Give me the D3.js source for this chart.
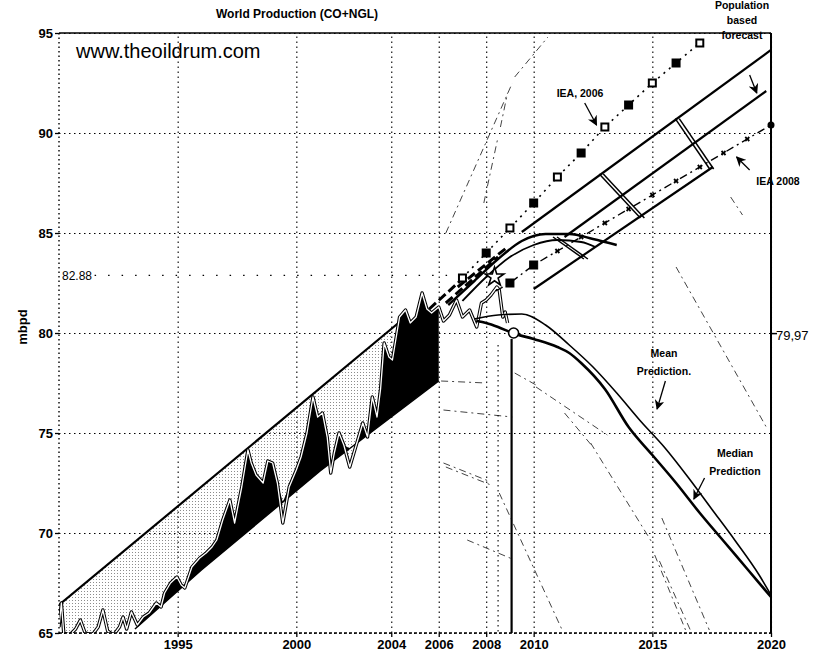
<!DOCTYPE html>
<html>
<head>
<meta charset="utf-8">
<script src="https://cdn.jsdelivr.net/npm/d3@7/dist/d3.min.js"></script>
<style>
  body { margin: 0; background: #fff; }
  text { font-family: "Liberation Sans", Arial, sans-serif; fill: #000; }
</style>
</head>
<body>
<svg id="chart" width="817" height="658"></svg>
<script>
// ---- data (years, mbpd) ----
var yearTicks = [1995, 2000, 2004, 2006, 2008, 2010, 2015, 2020];
var valueTicks = [65, 70, 75, 80, 85, 90, 95];

// monthly-ish world production
var production = [
	[1990.0, 65.3], [1990.1, 66.5], [1990.2, 65.0], [1990.45, 64.9], [1990.7, 65.2], [1990.9, 65.65],
	[1991.1, 65.0], [1991.4, 64.9], [1991.65, 65.3], [1991.85, 66.15], [1992.05, 65.1], [1992.3, 64.9],
	[1992.55, 65.3], [1992.7, 65.8], [1992.85, 65.2], [1993.05, 66.05], [1993.3, 65.4], [1993.55, 65.8],
	[1993.8, 66.0], [1994.1, 66.5], [1994.3, 66.3], [1994.45, 67.0], [1994.7, 67.5], [1994.97, 67.8],
	[1995.15, 67.4], [1995.3, 67.25], [1995.6, 68.3], [1995.93, 68.75], [1996.2, 69.0], [1996.45, 69.3],
	[1996.65, 69.65], [1996.9, 70.65], [1997.2, 71.65], [1997.4, 70.5], [1997.7, 72.3], [1997.96, 74.15],
	[1998.1, 73.5], [1998.3, 72.9], [1998.6, 72.5], [1998.8, 73.6], [1999.0, 73.5], [1999.2, 72.5],
	[1999.43, 70.5], [1999.7, 72.3], [2000.0, 73.15], [2000.2, 73.8], [2000.45, 75.0], [2000.7, 76.8],
	[2000.9, 75.8], [2001.1, 76.0], [2001.3, 74.8], [2001.45, 73.0], [2001.6, 74.0], [2001.8, 75.0],
	[2002.0, 74.4], [2002.25, 73.3], [2002.5, 74.3], [2002.8, 75.5], [2003.0, 74.8], [2003.2, 76.8],
	[2003.4, 75.8], [2003.55, 77.2], [2003.7, 79.5], [2003.9, 78.8], [2004.05, 78.65], [2004.35, 80.8],
	[2004.6, 81.15], [2004.8, 80.5], [2005.05, 80.8], [2005.3, 82.0], [2005.5, 81.2], [2005.7, 81.0],
	[2006.0, 81.3], [2006.2, 80.6], [2006.45, 80.9], [2006.75, 81.65], [2007.0, 80.8], [2007.3, 81.15],
	[2007.6, 80.3], [2007.8, 81.5], [2008.0, 81.65], [2008.2, 81.9], [2008.45, 82.3], [2008.55, 82.15],
	[2008.7, 80.8], [2008.8, 81.05], [2008.9, 80.5]
];

var upperLine = [[1990, 66.4], [2004.3, 80.5]];
var lowerLine = [[1993.2, 65.2], [1996, 68.15], [2001, 73.1], [2006, 77.6]];

var meanPrediction = [
	[2007.5, 80.7], [2008.5, 80.9], [2009.5, 80.95], [2010.5, 80.4], [2011.5, 79.4], [2012.5, 78.3],
	[2013.5, 77.0], [2014.5, 75.6], [2015.5, 74.3], [2016.5, 72.8], [2017.5, 71.2], [2018.5, 69.6],
	[2019.5, 67.9], [2020, 66.9]
];
var medianPrediction = [
	[2007.6, 80.6], [2008.0, 80.5], [2008.5, 80.3], [2009.1, 80.0], [2010.0, 79.7], [2011.0, 79.3],
	[2011.5, 79.0], [2012.0, 78.5], [2013.0, 77.2], [2014.0, 75.3], [2015.0, 73.9], [2016.0, 72.5],
	[2017.0, 71.0], [2018.0, 69.6], [2019.0, 68.2], [2020, 66.8]
];

var iea2006Years = [2007, 2008, 2009, 2010, 2011, 2012, 2013, 2014, 2015, 2016, 2017];
var iea2006Values = [82.75, 84.0, 85.25, 86.5, 87.8, 89.0, 90.3, 91.4, 92.5, 93.5, 94.5];

var iea2008Years = [2008.4, 2009, 2010, 2011, 2012, 2013, 2014, 2015, 2016, 2017, 2018, 2019, 2020];
var iea2008Values = [82.1, 82.5, 83.4, 84.1, 84.8, 85.5, 86.2, 86.9, 87.6, 88.3, 89.0, 89.7, 90.4];

// population based forecast band
var bandTop = [[2009.5, 85.05], [2020, 94.15]];
var bandMid = [[2011.3, 84.8], [2019.8, 92.1]];
var bandLow = [[2010.0, 82.2], [2017.55, 88.3]];
var bandCross = [
	[[2010.9, 84.8], [2012.2, 83.7]],
	[[2012.85, 87.95], [2014.58, 85.75]],
	[[2016.05, 90.72], [2017.5, 88.2]]
];
var arcOuter = [[2006.4, 81.4], [2007.5, 82.6], [2008.5, 83.7], [2009.5, 84.6], [2010.5, 84.95],
	[2011.5, 84.95], [2012.5, 84.7], [2013.5, 84.4]];
var arcInner = [[2007.0, 81.6], [2008.0, 82.8], [2009.0, 83.8], [2010.0, 84.4], [2011.0, 84.65],
	[2012.0, 84.55], [2012.6, 84.3]];

// heavy dashed forecasts near the peak
var heavyDashes = [
	[[2006.3, 81.5], [2008.5, 83.8]],
	[[2006.8, 82.3], [2008.9, 84.3]],
	[[2005.6, 81.2], [2006.9, 82.6]]
];
// faint leftover lines from other forecasts
var faintLines = [
	[[2006.3, 85.0], [2009.1, 92.5]], [[2009.2, 92.8], [2010.6, 94.8]], [[2007.9, 86.5], [2008.5, 89.8]],
	[[2008.6, 90.3], [2008.9, 92.0]], [[2016.0, 83.3], [2019.8, 75.3]], [[2010.1, 77.3], [2013.1, 74.9]],
	[[2011.3, 76.0], [2012.5, 74.3]], [[2012.4, 74.5], [2015.0, 69.5]], [[2015.4, 70.75], [2017.4, 65.15]],
	[[2015.1, 68.9], [2016.4, 65.15]], [[2015.3, 68.6], [2016.6, 65.15]], [[2008.55, 72.0], [2011.2, 65.15]],
	[[2006.1, 77.6], [2008.0, 77.5]], [[2006.2, 76.15], [2009.1, 75.8]], [[2006.2, 73.5], [2008.1, 72.6]],
	[[2006.3, 73.3], [2008.2, 72.4]], [[2007.2, 69.65], [2009.1, 68.7]], [[2018.3, 86.8], [2018.8, 85.9]],
	[[2009.2, 78.0], [2010.1, 77.4]]
];

var peakValue = 82.88;
var currentValue = 79.97;
var peakYear = 2009.07;
var refYear = 2008.5;

// ---- drawing ----
var svg = d3.select("#chart");
var x = d3.scaleLinear().domain([1990, 2020]).range([59, 771]);
var y = d3.scaleLinear().domain([65, 95]).range([633, 33]);

var defs = svg.append("defs");
defs.append("clipPath").attr("id", "plot")
	.append("rect").attr("x", 59).attr("y", 33).attr("width", 712).attr("height", 600);
var pat = defs.append("pattern").attr("id", "stipple")
	.attr("width", 3).attr("height", 3).attr("patternUnits", "userSpaceOnUse");
pat.append("rect").attr("width", 1).attr("height", 1).attr("fill", "#000").attr("opacity", 0.45);
defs.append("marker").attr("id", "arrow")
	.attr("viewBox", "0 0 10 10").attr("refX", 9).attr("refY", 5)
	.attr("markerWidth", 10).attr("markerHeight", 10).attr("markerUnits", "userSpaceOnUse")
	.attr("orient", "auto")
	.append("path").attr("d", "M0,0L10,5L0,10L3,5Z").attr("fill", "#000");

// grid
var gridX = svg.append("g").attr("transform", "translate(0,633)")
	.call(d3.axisBottom(x).tickValues(yearTicks).tickSize(-600).tickFormat(""));
var gridY = svg.append("g").attr("transform", "translate(59,0)")
	.call(d3.axisLeft(y).tickValues(valueTicks).tickSize(-712).tickFormat(""));
[gridX, gridY].forEach(function (g) {
	g.select(".domain").remove();
	g.selectAll("line").attr("stroke", "#000").attr("stroke-width", 1.1).attr("stroke-dasharray", "1.5,3.5");
});

var line = d3.line().x(function (d) { return x(d[0]); }).y(function (d) { return y(d[1]); });
var smooth = d3.line().curve(d3.curveMonotoneX)
	.x(function (d) { return x(d[0]); }).y(function (d) { return y(d[1]); });

function interp(pts, t) {
	for (var i = 1; i < pts.length; i++) {
		if (t <= pts[i][0]) {
			var a = pts[i - 1], b = pts[i];
			return a[1] + (b[1] - a[1]) * (t - a[0]) / (b[0] - a[0]);
		}
	}
	return pts[pts.length - 1][1];
}

var plot = svg.append("g").attr("clip-path", "url(#plot)");

// stippled area between production and upper line
var stipData = production.filter(function (d) { return d[0] <= 2004.3; });
plot.append("path")
	.datum(stipData)
	.attr("fill", "url(#stipple)")
	.attr("d", d3.area()
		.x(function (d) { return x(d[0]); })
		.y0(function (d) { return y(Math.max(65, d[1])); })
		.y1(function (d) { return y(Math.max(d[1], interp(upperLine, d[0]))); }));

// black area between lower line and production
var blackData = production.filter(function (d) { return d[0] >= 1993.2 && d[0] <= 2006; });
plot.append("path")
	.datum(blackData)
	.attr("fill", "#000")
	.attr("d", d3.area()
		.x(function (d) { return x(d[0]); })
		.y0(function (d) { return y(interp(lowerLine, d[0])); })
		.y1(function (d) { return y(Math.max(d[1], interp(lowerLine, d[0]))); }));

// faint lines
faintLines.forEach(function (seg) {
	plot.append("path").attr("d", line(seg)).attr("fill", "none")
		.attr("stroke", "#444").attr("stroke-width", 1).attr("stroke-dasharray", "7,4,2,4");
});

// reference lines
plot.append("line")
	.attr("x1", x(1991.5)).attr("x2", x(2008.3))
	.attr("y1", y(peakValue)).attr("y2", y(peakValue))
	.attr("stroke", "#000").attr("stroke-width", 1.2).attr("stroke-dasharray", "1.5,12");
plot.append("line")
	.attr("x1", x(refYear)).attr("x2", x(refYear))
	.attr("y1", y(79.4)).attr("y2", y(65))
	.attr("stroke", "#000").attr("stroke-width", 1.1).attr("stroke-dasharray", "1.5,3.5");
plot.append("line")
	.attr("x1", x(peakYear)).attr("x2", x(peakYear))
	.attr("y1", y(79.7)).attr("y2", y(65))
	.attr("stroke", "#000").attr("stroke-width", 2.2);

// upper / lower envelope
plot.append("path").attr("d", line(upperLine)).attr("fill", "none")
	.attr("stroke", "#000").attr("stroke-width", 2.2);
plot.append("path").attr("d", line(lowerLine)).attr("fill", "none")
	.attr("stroke", "#000").attr("stroke-width", 1.5);

// production: white line with black rim
plot.append("path").attr("d", line(production)).attr("fill", "none")
	.attr("stroke", "#000").attr("stroke-width", 3.4).attr("stroke-linejoin", "round");
plot.append("path").attr("d", line(production)).attr("fill", "none")
	.attr("stroke", "#fff").attr("stroke-width", 1.3).attr("stroke-linejoin", "round");

// heavy dashes
heavyDashes.forEach(function (seg) {
	plot.append("path").attr("d", line(seg)).attr("fill", "none")
		.attr("stroke", "#000").attr("stroke-width", 3).attr("stroke-dasharray", "9,4");
});

// population based forecast band
[bandTop, bandMid, bandLow].forEach(function (seg) {
	plot.append("path").attr("d", line(seg)).attr("fill", "none")
		.attr("stroke", "#000").attr("stroke-width", 2.2);
});
bandCross.forEach(function (seg) {
	[-2, 2].forEach(function (off) {
		plot.append("path").attr("d", line(seg)).attr("fill", "none")
			.attr("transform", "translate(" + off + ",0)")
			.attr("stroke", "#000").attr("stroke-width", 1.5);
	});
});
[arcOuter, arcInner].forEach(function (arc, i) {
	plot.append("path").attr("d", smooth(arc)).attr("fill", "none")
		.attr("stroke", "#000").attr("stroke-width", i ? 1.8 : 2.4);
});

// predictions
plot.append("path").attr("d", smooth(meanPrediction)).attr("fill", "none")
	.attr("stroke", "#000").attr("stroke-width", 1.6);
plot.append("path").attr("d", smooth(medianPrediction)).attr("fill", "none")
	.attr("stroke", "#000").attr("stroke-width", 2.6);

// IEA 2006
var iea06 = iea2006Years.map(function (t, i) { return [t, iea2006Values[i]]; });
plot.append("path").attr("d", line(iea06)).attr("fill", "none")
	.attr("stroke", "#000").attr("stroke-width", 1.6).attr("stroke-dasharray", "2,5");
plot.selectAll(".m06").data(iea06).enter().append("rect")
	.attr("x", function (d) { return x(d[0]) - 3.5; })
	.attr("y", function (d) { return y(d[1]) - 3.5; })
	.attr("width", 7).attr("height", 7)
	.attr("fill", function (d, i) { return i % 2 ? "#000" : "#fff"; })
	.attr("stroke", "#000").attr("stroke-width", 2);

// IEA 2008
var iea08 = iea2008Years.map(function (t, i) { return [t, iea2008Values[i]]; });
plot.append("path").attr("d", line(iea08)).attr("fill", "none")
	.attr("stroke", "#000").attr("stroke-width", 1.4).attr("stroke-dasharray", "8,4,2,4");
plot.selectAll(".m08").data(iea08.slice(1, 3)).enter().append("rect")
	.attr("x", function (d) { return x(d[0]) - 4; })
	.attr("y", function (d) { return y(d[1]) - 4; })
	.attr("width", 8).attr("height", 8)
	.attr("fill", "#000").attr("stroke", "#000");
plot.selectAll(".s08").data(iea08.slice(3, 12)).enter().append("path")
	.attr("d", d3.symbol().type(d3.symbolCross).size(18))
	.attr("transform", function (d) { return "translate(" + x(d[0]) + "," + y(d[1]) + ") rotate(45)"; })
	.attr("fill", "#000");
svg.append("circle").attr("cx", x(2020)).attr("cy", y(iea2008Values[iea2008Values.length - 1]))
	.attr("r", 3.5).attr("fill", "#000");

// star and peak circle
plot.append("path")
	.attr("d", d3.symbol().type(d3.symbolStar).size(110))
	.attr("transform", "translate(" + x(2008.35) + "," + y(82.8) + ")")
	.attr("fill", "#fff").attr("stroke", "#000").attr("stroke-width", 1.6);
plot.append("circle").attr("cx", x(peakYear) + 2).attr("cy", y(80.0))
	.attr("r", 5).attr("fill", "#fff").attr("stroke", "#000").attr("stroke-width", 1.6);

// frame
svg.append("line").attr("x1", 59).attr("x2", 771).attr("y1", 33).attr("y2", 33)
	.attr("stroke", "#000").attr("stroke-width", 1.5);
svg.append("line").attr("x1", 771).attr("x2", 771).attr("y1", 33).attr("y2", 633)
	.attr("stroke", "#000").attr("stroke-width", 2);
svg.append("line").attr("x1", 59).attr("x2", 771).attr("y1", 633).attr("y2", 633)
	.attr("stroke", "#000").attr("stroke-width", 1.4).attr("stroke-dasharray", "3,2");
svg.append("line").attr("x1", 59).attr("x2", 59).attr("y1", 33).attr("y2", 633)
	.attr("stroke", "#000").attr("stroke-width", 1.4).attr("stroke-dasharray", "1.5,3");

// tick labels
var xAxis = svg.append("g").attr("transform", "translate(0,633)")
	.call(d3.axisBottom(x).tickValues(yearTicks).tickSize(4).tickFormat(d3.format("d")));
var yAxis = svg.append("g").attr("transform", "translate(59,0)")
	.call(d3.axisLeft(y).tickValues(valueTicks).tickSize(4).tickFormat(d3.format("d")));
[xAxis, yAxis].forEach(function (g) {
	g.select(".domain").remove();
	g.selectAll("line").attr("stroke", "#000").attr("stroke-width", 1.3);
	g.selectAll("text").attr("font-family", "Liberation Sans, Arial, sans-serif")
		.attr("font-size", 13).attr("font-weight", "bold").attr("fill", "#000");
});
xAxis.selectAll("text").attr("y", 7).attr("dy", "0.71em");
yAxis.selectAll("text").attr("x", -6);

// texts
svg.append("text").attr("x", 297).attr("y", 18).attr("text-anchor", "middle")
	.attr("font-size", 12).attr("font-weight", "bold").text("World Production (CO+NGL)");
svg.append("text").attr("x", 76).attr("y", 58).attr("font-size", 20).text("www.theoildrum.com");
svg.append("text").attr("transform", "translate(27," + y(80.3) + ") rotate(-90)")
	.attr("text-anchor", "middle").attr("font-size", 13).attr("font-weight", "bold").text("mbpd");
svg.append("text").attr("x", 62).attr("y", y(peakValue) + 5).attr("font-size", 12).text(peakValue.toFixed(2));
svg.append("line").attr("x1", 771).attr("x2", 777).attr("y1", y(currentValue)).attr("y2", y(currentValue))
	.attr("stroke", "#000").attr("stroke-width", 1.5);
svg.append("text").attr("x", 776).attr("y", y(currentValue) + 6).attr("font-size", 13)
	.text(currentValue.toFixed(2).replace(".", ","));

function note(lines, cx, by, lh) {
	lines.forEach(function (s, i) {
		svg.append("text").attr("x", cx).attr("y", by + i * lh).attr("text-anchor", "middle")
			.attr("font-size", 10.5).attr("font-weight", "bold").text(s);
	});
}
function arrow(a, b) {
	svg.append("line").attr("x1", x(a[0])).attr("y1", y(a[1])).attr("x2", x(b[0])).attr("y2", y(b[1]))
		.attr("stroke", "#000").attr("stroke-width", 1.3).attr("marker-end", "url(#arrow)");
}
note(["IEA, 2006"], 580, 97, 0);
arrow([2012.15, 91.5], [2012.65, 90.4]);
note(["Population", "based", "forecast"], 742, 9, 15);
arrow([2019.1, 92.9], [2019.4, 92.0]);
note(["IEA 2008"], 778, 185, 0);
arrow([2019.1, 88.15], [2018.55, 88.8]);
note(["Mean", "Prediction."], 664, 357, 18);
arrow([2015.55, 77.6], [2015.2, 76.2]);
note(["Median", "Prediction"], 735, 457, 18);
arrow([2017.2, 72.75], [2016.75, 71.7]);
</script>
</body>
</html>
